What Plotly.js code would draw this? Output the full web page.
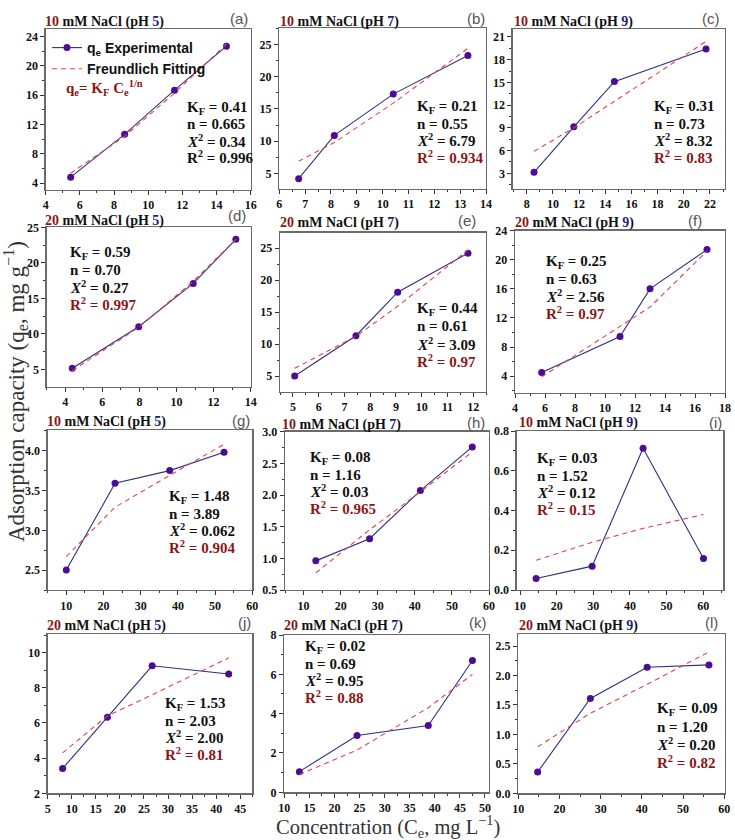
<!DOCTYPE html>
<html><head><meta charset="utf-8">
<script src="https://cdn.plot.ly/plotly-3.0.1.min.js"></script>
<style>html,body{margin:0;padding:0;background:#fff}</style>
</head><body><div id="chart" style="width:735px;height:840px"></div>
<script>
// ---------- data ----------
const panelLetters = ['(a)','(b)','(c)','(d)','(e)','(f)','(g)','(h)','(i)','(j)','(k)','(l)'];
const saltConc = ['10','10','10','20','20','20','10','10','10','20','20','20'];
const pHValues = ['5','7','9','5','7','9','5','7','9','5','7','9'];

const conc_a = [5.46, 8.62, 11.54, 14.58];
const qe_a   = [4.82, 10.67, 16.7, 22.7];
const fit_a  = [5.35, 10.4, 16.3, 23.0];

const conc_b = [6.75, 8.13, 10.41, 13.3];
const qe_b   = [4.2, 10.9, 17.3, 23.3];
const fit_b  = [6.9, 9.8, 15.9, 24.4];

const conc_c = [8.56, 11.6, 14.7, 21.7];
const qe_c   = [3.13, 9.14, 15.1, 19.4];
const fit_c  = [5.9, 9.0, 12.5, 20.4];

const conc_d = [4.38, 7.96, 10.9, 13.2];
const qe_d   = [5.14, 11.0, 17.1, 23.3];
const fit_d  = [4.8, 10.9, 17.4, 23.3];

const conc_e = [5.07, 7.45, 9.07, 11.8];
const qe_e   = [5.0, 11.3, 18.1, 24.2];
const fit_e  = [6.2, 11.2, 15.9, 24.7];

const conc_f = [5.78, 11.0, 13.0, 16.8];
const qe_f   = [4.5, 9.45, 16.0, 21.4];
const fit_f  = [3.9, 10.8, 13.5, 21.2];

const conc_g = [10.0, 23.1, 37.8, 52.4];
const qe_g   = [2.5, 3.59, 3.75, 3.98];
const fit_g  = [2.67, 3.29, 3.69, 4.08];

const conc_h = [13.3, 27.8, 41.5, 55.5];
const qe_h   = [0.96, 1.31, 2.07, 2.76];
const fit_h  = [0.77, 1.45, 2.05, 2.68];

const conc_i = [14.4, 29.7, 43.6, 60.1];
const qe_i   = [0.058, 0.12, 0.713, 0.158];
const fit_i  = [0.15, 0.24, 0.31, 0.38];

const conc_j = [8.1, 17.4, 26.7, 42.6];
const qe_j   = [3.41, 6.32, 9.25, 8.78];
const fit_j  = [4.3, 6.4, 7.6, 9.7];

const conc_k = [13.0, 24.5, 38.7, 47.5];
const qe_k   = [1.05, 2.89, 3.4, 6.7];
const fit_k  = [0.9, 2.15, 4.3, 6.0];

const conc_l = [14.7, 27.5, 41.3, 56.3];
const qe_l   = [0.36, 1.61, 2.14, 2.18];
const fit_l  = [0.79, 1.36, 1.85, 2.4];

const KF      = ['0.41','0.21','0.31','0.59','0.44','0.25','1.48','0.08','0.03','1.53','0.02','0.09'];
const nValues = ['0.665','0.55','0.73','0.70','0.61','0.63','3.89','1.16','1.52','2.03','0.69','1.20'];
const chi2    = ['0.34','6.79','8.32','0.27','3.09','2.56','0.062','0.03','0.12','2.00','0.95','0.20'];
const R2      = ['0.996','0.934','0.83','0.997','0.97','0.97','0.904','0.965','0.15','0.81','0.88','0.82'];

const legendNames = ['q<sub>e</sub> Experimental', 'Freundlich Fitting'];

// ---------- layout helpers ----------
const W = 735, H = 840;
const concs = [conc_a,conc_b,conc_c,conc_d,conc_e,conc_f,conc_g,conc_h,conc_i,conc_j,conc_k,conc_l];
const qes   = [qe_a,qe_b,qe_c,qe_d,qe_e,qe_f,qe_g,qe_h,qe_i,qe_j,qe_k,qe_l];
const fits  = [fit_a,fit_b,fit_c,fit_d,fit_e,fit_f,fit_g,fit_h,fit_i,fit_j,fit_k,fit_l];

// plot boxes in pixels: x0, x1, y0(top), y1(bottom)
const boxes = [
  [45.7,250.7,29.3,189.5],[279.3,486,28.3,188.5],[512.7,725,29.3,188.5],
  [46.7,250.7,227.3,386.7],[280,486,232.7,391.7],[515,725,230.7,392.7],
  [47.7,252.3,430,590],[285,489,431.7,590],[516.7,723.3,431,590],
  [47.7,252.3,634.3,793.3],[284.3,489,635,792.3],[518.3,725,634.3,793.3]
];
const xRanges = [[4,16],[6,14],[6.93,23.15],[3,14],[4.5,12.5],[4,18],[5,60],[5,60],[9.1,65.5],[5,47.5],[10,50.8],[10,60.2]];
const yRanges = [[3.14,25.0],[2.67,27.5],[1.0,22.0],[2.55,25],[2.55,27.4],[1.72,24],[2.25,4.26],[0.5,3.0],[0,0.8],[2,11.04],[0,8],[0,2.7]];
const xSteps = [2,1,2,2,1,2,10,10,10,5,5,10];
const ySteps = [4,5,3,5,5,4,0.5,0.5,0.2,2,2,0.5];
const yFmt = ['','','','','','','.1f','.1f','.1f','','','.1f'];

// text positions (px)
const titlePos = [[43,22],[278,22],[512,22],[43,221],[278,223],[513,223],[45,422],[280,425],[517,423],[45,626],[282,626],[517,626]];
const letterPos = [[239,18],[476,18],[711,18],[237,216],[467,221],[695,221],[241,420],[476,422],[715,422],[244,622],[478,622],[711,622]];
const statPos = [[185,108,16.3],[415,107,16.5],[652,107,16.5],[68,253,17],[415,308.5,17.5],[544,262,17],
                 [167,497,16.7],[308,458,16.7],[535,459,16.7],[163,704,16.7],[303,647,16.5],[655,709,17.5]];

const px = x => x / W;
const py = y => 1 - y / H;

const DARKRED = '#8b1616';
const NAVY = '#1c2277';
const serif = 'Liberation Serif';

const traces = [];
const layout = {
  width: W, height: H,
  margin: {l:0, r:0, t:0, b:0, pad:0},
  paper_bgcolor: '#fff', plot_bgcolor: '#fff',
  font: {family: serif},
  showlegend: true,
  legend: {
    x: px(47), y: py(32), xanchor: 'left', yanchor: 'top',
    bgcolor: 'rgba(0,0,0,0)', borderwidth: 0,
    font: {family: 'Liberation Sans', size: 14, color: '#111', weight: 'bold'},
    tracegroupgap: 0, itemwidth: 30
  },
  annotations: [],
  shapes: []
};

for (let i = 0; i < 12; i++) {
  const s = i === 0 ? '' : String(i + 1);
  const [x0, x1, y0, y1] = boxes[i];
  traces.push({
    x: concs[i], y: qes[i], xaxis: 'x' + s, yaxis: 'y' + s,
    type: 'scatter', mode: 'lines+markers',
    name: legendNames[0], showlegend: i === 0, legendgroup: 'exp',
    line: {color: '#2d3180', width: 1.1},
    marker: {color: '#4a0d94', size: 7},
    cliponaxis: false
  });
  traces.push({
    x: concs[i], y: fits[i], xaxis: 'x' + s, yaxis: 'y' + s,
    type: 'scatter', mode: 'lines',
    name: legendNames[1], showlegend: i === 0, legendgroup: 'fit',
    line: {color: '#e0434b', width: 1.1, dash: '5px,4px'}
  });
  const axCommon = {
    showline: true, linecolor: '#6a6a6a', linewidth: 1.3, mirror: true,
    ticks: 'outside', ticklen: 4, tickwidth: 1, tickcolor: '#333',
    showgrid: false, zeroline: false, fixedrange: true,
    tickfont: {family: serif, size: 12, color: '#111', weight: 'bold'}
  };
  layout['xaxis' + s] = Object.assign({}, axCommon, {
    domain: [px(x0), px(x1)], range: xRanges[i], anchor: 'y' + s,
    tick0: 0, dtick: xSteps[i],
    minor: {ticks: 'outside', ticklen: 2, tickcolor: '#333', dtick: xSteps[i] / 2, tick0: 0, showgrid: false}
  });
  layout['yaxis' + s] = Object.assign({}, axCommon, {
    domain: [py(y1), py(y0)], range: yRanges[i], anchor: 'x' + s,
    tick0: 0, dtick: ySteps[i], tickformat: yFmt[i],
    minor: {ticks: 'outside', ticklen: 2, tickcolor: '#333', dtick: ySteps[i] / 2, tick0: 0, showgrid: false}
  });

  // panel title
  layout.annotations.push({
    xref: 'paper', yref: 'paper', x: px(titlePos[i][0]), y: py(titlePos[i][1]),
    xanchor: 'left', yanchor: 'middle', showarrow: false,
    text: '<b><span style="color:' + DARKRED + '">' + saltConc[i] + '</span> mM NaCl (pH <span style="color:' + NAVY + '">' + pHValues[i] + '</span>)</b>',
    font: {family: serif, size: 14, color: '#111', weight: 'bold'}
  });
  // panel letter
  layout.annotations.push({
    xref: 'paper', yref: 'paper', x: px(letterPos[i][0]), y: py(letterPos[i][1]),
    xanchor: 'center', yanchor: 'middle', showarrow: false,
    text: panelLetters[i],
    font: {family: 'Liberation Sans', size: 15, color: '#555'}
  });
  // statistics
  const lines = [
    ['K<sub>F</sub> = ' + KF[i], '#111'],
    ['n = ' + nValues[i], '#111'],
    ['<i>X</i><sup>2</sup> = ' + chi2[i], '#111'],
    ['R<sup>2</sup> = ' + R2[i], i === 0 ? '#111' : DARKRED]
  ];
  const [sx, sy, st] = statPos[i];
  lines.forEach((ln, k) => {
    layout.annotations.push({
      xref: 'paper', yref: 'paper', x: px(sx), y: py(sy + k * st),
      xanchor: 'left', yanchor: 'middle', showarrow: false,
      text: '<b>' + ln[0] + '</b>',
      font: {family: serif, size: 15, color: ln[1], weight: 'bold'}
    });
  });
}

// equation in panel (a)
layout.annotations.push({
  xref: 'paper', yref: 'paper', x: px(64), y: py(88),
  xanchor: 'left', yanchor: 'middle', showarrow: false,
  text: '<b>q<sub>e</sub>= K<sub>F</sub> C<sub>e</sub><sup>1/n</sup></b>',
  font: {family: serif, size: 15, color: DARKRED, weight: 'bold'}
});

// global axis titles
layout.annotations.push({
  xref: 'paper', yref: 'paper', x: px(15), y: py(392),
  xanchor: 'center', yanchor: 'middle', showarrow: false, textangle: -90,
  text: 'Adsorption capacity (q<sub>e</sub>, mg g<sup>−1</sup>)',
  font: {family: serif, size: 23, color: '#333'}
});
layout.annotations.push({
  xref: 'paper', yref: 'paper', x: px(388), y: py(826),
  xanchor: 'center', yanchor: 'middle', showarrow: false,
  text: 'Concentration (C<sub>e</sub>, mg L<sup>−1</sup>)',
  font: {family: serif, size: 20.5, color: '#333'}
});

Plotly.newPlot('chart', traces, layout, {displayModeBar: false, staticPlot: true});
</script>
</body></html>
